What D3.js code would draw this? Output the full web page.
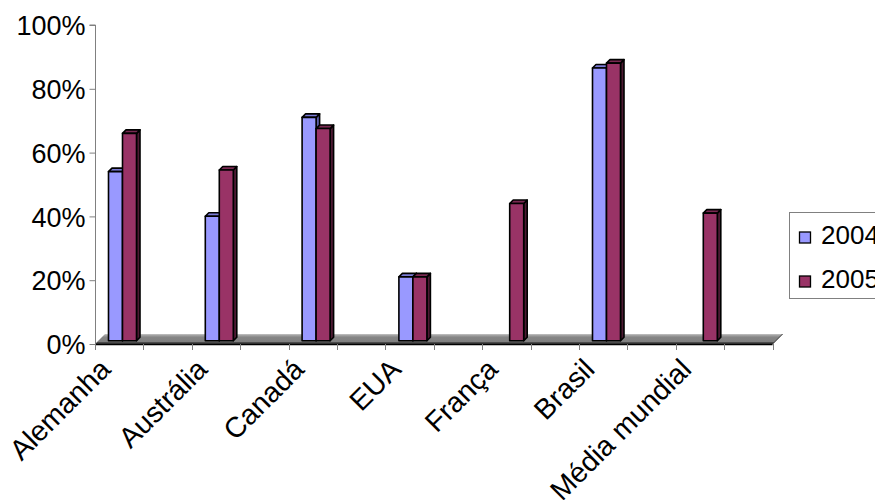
<!DOCTYPE html>
<html>
<head>
<meta charset="utf-8">
<script src="https://cdn.jsdelivr.net/npm/d3@7"></script>
<style>
  body { margin: 0; background: #fff; }
  svg { display: block; }
  text { font-family: "Liberation Sans", Arial, sans-serif; fill: #000; }
</style>
</head>
<body>
<svg id="chart" width="875" height="500"></svg>
<script>
// Chart data
const categories = ["Alemanha", "Austrália", "Canadá", "EUA", "França", "Brasil", "Média mundial"];
const seriesNames = ["2004", "2005"];
const values2004 = [53, 39, 70, 20, null, 85.5, null];
const values2005 = [65, 53.5, 66.5, 20, 43, 87, 40];
const yTickValues = [0, 20, 40, 60, 80, 100];

const seriesColors = {
  "2004": { front: "#9999ff", top: "#7b7bd6", side: "#5c5ca8" },
  "2005": { front: "#993366", top: "#7a2952", side: "#4d1a33" }
};

const svg = d3.select("#chart");

// Front plane of the plot: x from the value axis to the end of the floor
const x = d3.scaleBand().domain(categories).range([95, 772.6]).paddingInner(0).paddingOuter(0);
const y = d3.scaleLinear().domain([0, 100]).range([344, 25]);

const floorDepth = 10;   // oblique offset of the floor's back edge
const barPlane = 3.3;    // depth at which the bars stand
const barDepth = 3.5;    // thickness of each bar's side/top faces
const barWidth = 14;

// Floor with shading
const defs = svg.append("defs");
const grad = defs.append("linearGradient").attr("id", "floorGrad")
  .attr("x1", 0).attr("y1", 0).attr("x2", 0).attr("y2", 1);
[["0%", "#c4c4c4"], ["18%", "#999"], ["35%", "#858585"], ["75%", "#808080"], ["80%", "#505050"], ["100%", "#3c3c3c"]]
  .forEach(([o, c]) => grad.append("stop").attr("offset", o).attr("stop-color", c));

const [x0, x1] = x.range();
const yBase = y(0);
svg.append("polygon")
  .attr("points", [[x0, yBase], [x1, yBase], [x1 + floorDepth, yBase - floorDepth], [x0 + floorDepth, yBase - floorDepth]].join(" "))
  .attr("fill", "url(#floorGrad)");
svg.append("line")
  .attr("x1", x1).attr("y1", yBase).attr("x2", x1 + floorDepth).attr("y2", yBase - floorDepth)
  .attr("stroke", "#333").attr("stroke-width", 1);

// Category axis line and ticks (boundaries and half-steps)
svg.append("line")
  .attr("x1", x0).attr("x2", x1).attr("y1", yBase + 0.5).attr("y2", yBase + 0.5)
  .attr("stroke", "#000").attr("stroke-width", 1.5);
const xTickPos = [];
categories.forEach(c => { xTickPos.push(x(c)); xTickPos.push(x(c) + x.bandwidth() / 2); });
xTickPos.push(x1);
svg.append("g").selectAll("line").data(xTickPos).join("line")
  .attr("x1", d => Math.round(d) + 0.5).attr("x2", d => Math.round(d) + 0.5)
  .attr("y1", yBase).attr("y2", yBase + 6)
  .attr("stroke", "#808080").attr("stroke-width", 1);

// Value axis
const yAxis = d3.axisLeft(y).tickValues(yTickValues).tickSize(6).tickPadding(4)
  .tickFormat(d => d + "%");
const gy = svg.append("g").attr("transform", "translate(95.5,0)").call(yAxis);
gy.select(".domain").attr("stroke", "#808080").attr("d", `M-6,${y(100)}H0V${yBase}`);
gy.selectAll(".tick line").attr("stroke", "#808080");
gy.selectAll(".tick text").attr("font-size", 27).attr("font-family", "Liberation Sans, Arial, sans-serif")
  .attr("fill", "#000").attr("dy", "0.36em");

// 3D columns
const barData = [];
categories.forEach((c, i) => {
  [values2004[i], values2005[i]].forEach((v, s) => {
    if (v == null) return;
    const cx = x(c) + x.bandwidth() / 4 + barPlane;
    barData.push({ cat: c, series: seriesNames[s], value: v, left: cx + (s - 1) * barWidth });
  });
});

const bars = svg.append("g").selectAll("g").data(barData).join("g");
bars.each(function (d) {
  const g = d3.select(this);
  const l = d.left, r = d.left + barWidth;
  const top = y(d.value) - barPlane, bot = y(0) - barPlane;
  const col = seriesColors[d.series];
  const common = sel => sel.attr("stroke", "#000").attr("stroke-width", 1.6).attr("stroke-linejoin", "round");
  g.append("polygon").call(common).attr("fill", col.side)
    .attr("points", [[r, top], [r + barDepth, top - barDepth], [r + barDepth, bot - barDepth], [r, bot]].join(" "));
  g.append("polygon").call(common).attr("fill", col.top)
    .attr("points", [[l, top], [l + barDepth, top - barDepth], [r + barDepth, top - barDepth], [r, top]].join(" "));
  g.append("rect").call(common).attr("fill", col.front)
    .attr("x", l).attr("y", top).attr("width", barWidth).attr("height", bot - top);
});

// Rotated category labels
svg.append("g").selectAll("text").data(categories).join("text")
  .attr("transform", d => `translate(${x(d) + x.bandwidth() / 4 - 7},371) rotate(-45)`)
  .attr("text-anchor", "end")
  .attr("font-size", 28.5)
  .text(d => d);

// Legend
const legend = svg.append("g");
legend.append("rect").attr("x", 789.5).attr("y", 212.5).attr("width", 120).attr("height", 86)
  .attr("fill", "#fff").attr("stroke", "#808080").attr("stroke-width", 1);
seriesNames.forEach((s, i) => {
  const by = 243.5 + i * 44;
  legend.append("rect").attr("x", 799.5).attr("y", by - 11.5).attr("width", 11).attr("height", 11)
    .attr("fill", seriesColors[s].front).attr("stroke", "#000").attr("stroke-width", 1.3);
  legend.append("text").attr("x", 821).attr("y", by).attr("font-size", 26).text(s);
});
</script>
</body>
</html>
